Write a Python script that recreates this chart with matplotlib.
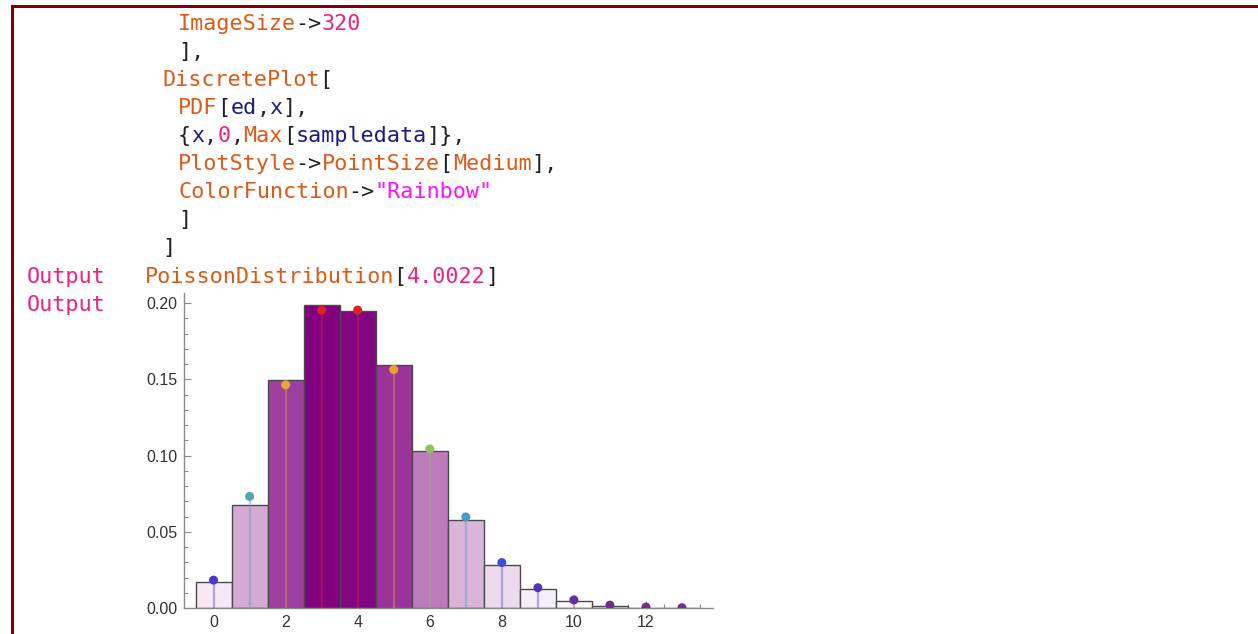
import matplotlib
matplotlib.use("Agg")
import matplotlib.pyplot as plt
from matplotlib.colors import LinearSegmentedColormap, Normalize
from matplotlib.patches import Rectangle
from matplotlib.ticker import MultipleLocator, FormatStrFormatter
import numpy as np

# data
k_values = list(range(14))
hist_density = [0.0171, 0.0675, 0.1493, 0.1987, 0.1948, 0.1596, 0.1027,
                0.0575, 0.0284, 0.0127, 0.0048, 0.0013, 0.0, 0.0]
pdf_values = [0.0183, 0.0732, 0.1464, 0.1953, 0.1954, 0.1564, 0.1043,
              0.0597, 0.0298, 0.0133, 0.0053, 0.0019, 0.0006, 0.0002]
y_ticks = [0.00, 0.05, 0.10, 0.15, 0.20]
x_ticks = [0, 2, 4, 6, 8, 10, 12]

W, H = 1258, 634
fig = plt.figure(figsize=(W / 100, H / 100), dpi=100)

# colours
ORANGE = "#dc5a18"
PINK = "#f0207e"
NAVY = "#1c1a86"
BLACK = "#222222"
MAGENTA = "#ff10ff"

code_lines = [
    (178, 30, [("ImageSize", ORANGE), ("->", BLACK), ("320", PINK)]),
    (178, 58, [("],", BLACK)]),
    (162, 86, [("DiscretePlot", ORANGE), ("[", BLACK)]),
    (178, 114, [("PDF", ORANGE), ("[", BLACK), ("ed", NAVY), (",", BLACK),
                ("x", NAVY), ("],", BLACK)]),
    (178, 142, [("{", BLACK), ("x", NAVY), (",", BLACK), ("0", PINK),
                (",", BLACK), ("Max", ORANGE), ("[", BLACK),
                ("sampledata", NAVY), ("]},", BLACK)]),
    (178, 170, [("PlotStyle", ORANGE), ("->", BLACK), ("PointSize", ORANGE),
                ("[", BLACK), ("Medium", ORANGE), ("],", BLACK)]),
    (178, 198, [("ColorFunction", ORANGE), ("->", BLACK),
                ('"Rainbow"', MAGENTA)]),
    (178, 226, [("]", BLACK)]),
    (162, 254, [("]", BLACK)]),
    (145, 283, [("PoissonDistribution", ORANGE), ("[", BLACK),
                ("4.0022", PINK), ("]", BLACK)]),
]
labels = [(27, 283, "Output"), (27, 311, "Output")]

cw = 13.08  # pixel width of one monospace char
fsize = cw / 0.602 * 72 / 100
for x0, base, parts in code_lines:
    col = 0
    for txt, c in parts:
        fig.text((x0 + col * cw) / W, 1 - base / H, txt, color=c,
                 family="DejaVu Sans Mono", fontsize=fsize, va="baseline")
        col += len(txt)
for x0, base, txt in labels:
    fig.text(x0 / W, 1 - base / H, txt, color=PINK,
             family="DejaVu Sans Mono", fontsize=fsize, va="baseline")

# notebook frame
fig.add_artist(Rectangle((11 / W, 1 - 8 / H), 1 - 11 / W, 3 / H,
                         transform=fig.transFigure, color="#800000", lw=0))
fig.add_artist(Rectangle((11 / W, 0), 3 / W, 1 - 5 / H,
                         transform=fig.transFigure, color="#800000", lw=0))

# plot area
x_lo, x_hi = -0.82, 13.86
y_lo, y_hi = 0.0, 0.2066
ax = fig.add_axes([184 / W, 26 / H, (713 - 184) / W, (608 - 293) / H])
ax.set_xlim(x_lo, x_hi)
ax.set_ylim(y_lo, y_hi)

bar_cmap = LinearSegmentedColormap.from_list("pur", ["#ffffff", "#800080"])
bar_cols = [bar_cmap(h / max(hist_density)) for h in hist_density]
ax.bar(k_values, hist_density, width=1.0, color=bar_cols,
       edgecolor="#4a4a4a", linewidth=1.0, zorder=2)

rainbow = LinearSegmentedColormap.from_list("rb", [
    (0.0, "#762a8e"), (0.08, "#4c34c4"), (0.17, "#3c52d8"),
    (0.30, "#4898cc"), (0.40, "#58a8a2"), (0.53, "#90c060"),
    (0.70, "#dcb040"), (0.80, "#e8a030"), (1.0, "#e02222")])
norm = Normalize(min(pdf_values), max(pdf_values))
dot_cols = [rainbow(norm(v)) for v in pdf_values]
ax.vlines(k_values, 0, pdf_values, colors=dot_cols, alpha=0.4,
          linewidth=1.6, zorder=3)
ax.scatter(k_values, pdf_values, s=42, c=dot_cols, zorder=4, lw=0)

for s in ["top", "right"]:
    ax.spines[s].set_visible(False)
for s in ["left", "bottom"]:
    ax.spines[s].set_color("#8a8a8a")
    ax.spines[s].set_linewidth(1.0)
ax.set_yticks(y_ticks)
ax.set_xticks(x_ticks)
ax.yaxis.set_major_formatter(FormatStrFormatter("%.2f"))
ax.yaxis.set_minor_locator(MultipleLocator(0.01))
ax.xaxis.set_minor_locator(MultipleLocator(0.5))
ax.tick_params(which="both", direction="in", color="#8a8a8a",
               labelcolor="#333333", labelsize=11.5, width=0.8)
ax.tick_params(which="major", length=5, pad=5)
ax.tick_params(which="minor", length=3)
for lab in ax.get_xticklabels() + ax.get_yticklabels():
    lab.set_family("Liberation Sans")
ax.patch.set_alpha(0)

fig.savefig("out.png", dpi=100)
